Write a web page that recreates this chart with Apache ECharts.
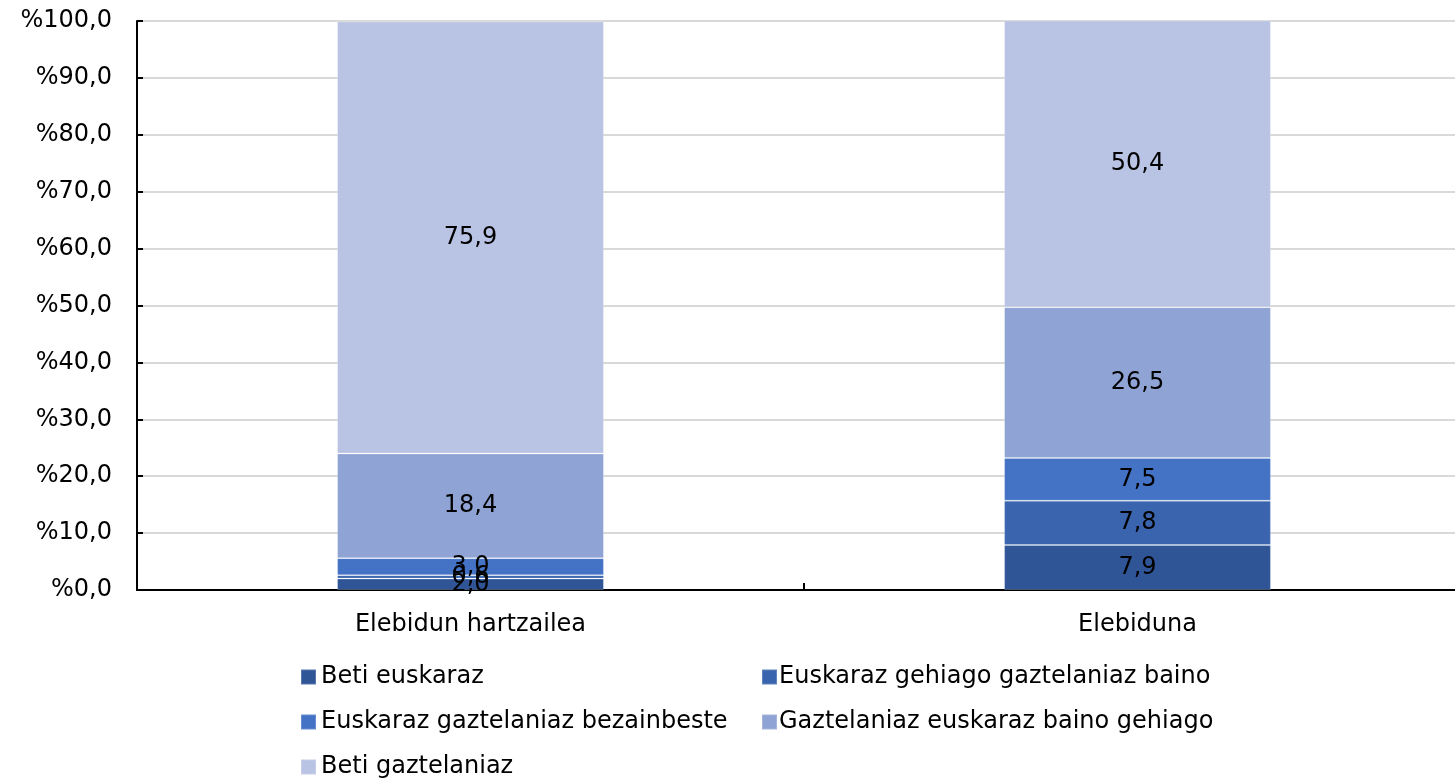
<!DOCTYPE html>
<html>
<head>
<meta charset="utf-8">
<script src="https://cdn.jsdelivr.net/npm/echarts@6/dist/echarts.min.js"></script>
<style>
  html, body { margin: 0; padding: 0; background: #fff; }
  #chart { width: 1455px; height: 778px; }
</style>
</head>
<body>
<div id="chart"></div>
<script>
// categories and values
const categories = ["Elebidun hartzailea", "Elebiduna"];
const seriesNames = [
  "Beti euskaraz",
  "Euskaraz gehiago gaztelaniaz baino",
  "Euskaraz gaztelaniaz bezainbeste",
  "Gaztelaniaz euskaraz baino gehiago",
  "Beti gaztelaniaz"
];
const betiEuskaraz = [2.0, 7.9];
const euskarazGehiago = [0.6, 7.8];
const bezainbeste = [3.0, 7.5];
const gaztelaniazGehiago = [18.4, 26.5];
const betiGaztelaniaz = [75.9, 50.4];
const colors = ["#2F5597", "#3A64AD", "#4472C4", "#8FA3D4", "#B9C3E3"];

const fmt = v => v.toFixed(1).replace(".", ",");
const font = "DejaVu Sans";
const fsize = 24;

const values = [betiEuskaraz, euskarazGehiago, bezainbeste, gaztelaniazGehiago, betiGaztelaniaz];

const chart = echarts.init(document.getElementById("chart"));

// one legend per item so the two columns line up
const legendPos = [
  { left: 300, top: 665 },
  { left: 761, top: 665 },
  { left: 300, top: 710 },
  { left: 761, top: 710 },
  { left: 300, top: 755 }
];

chart.setOption({
  animation: false,
  textStyle: { fontFamily: font },
  grid: { left: 137, width: 1334, top: 21, bottom: 188, outerBoundsMode: "none" },
  legend: seriesNames.map((name, i) => ({
    data: [name],
    left: legendPos[i].left,
    top: legendPos[i].top,
    icon: "rect",
    itemWidth: 15,
    itemHeight: 15,
    itemGap: 0,
    padding: 0,
    selectedMode: false,
    textStyle: { fontFamily: font, fontSize: fsize, color: "#000", padding: [0, 0, 0, i % 2 ? -3 : 0] }
  })),
  xAxis: {
    type: "category",
    data: categories,
    axisLine: { lineStyle: { color: "#000", width: 2 } },
    axisTick: { show: true, inside: true, length: 7, lineStyle: { color: "#000", width: 2 } },
    axisLabel: { color: "#000", fontSize: fsize, margin: 23, fontFamily: font }
  },
  yAxis: {
    type: "value",
    min: 0,
    max: 100,
    interval: 10,
    axisLine: { show: true, lineStyle: { color: "#000", width: 2 } },
    axisTick: { show: true, inside: true, length: 6, lineStyle: { color: "#000", width: 2 } },
    axisLabel: { color: "#000", fontSize: fsize, margin: 25, fontFamily: font, formatter: v => "%" + fmt(v) },
    splitLine: { lineStyle: { color: "#D9D9D9", width: 2 } }
  },
  series: seriesNames.map((name, i) => ({
    name: name,
    type: "bar",
    stack: "total",
    barWidth: "40%",
    data: values[i],
    itemStyle: { color: colors[i], borderColor: "rgba(255,255,255,0.2)", borderWidth: 1 },
    label: {
      show: true,
      position: "inside",
      color: "#000",
      fontSize: fsize,
      fontFamily: font,
      formatter: p => fmt(p.value)
    }
  }))
});
</script>
</body>
</html>
